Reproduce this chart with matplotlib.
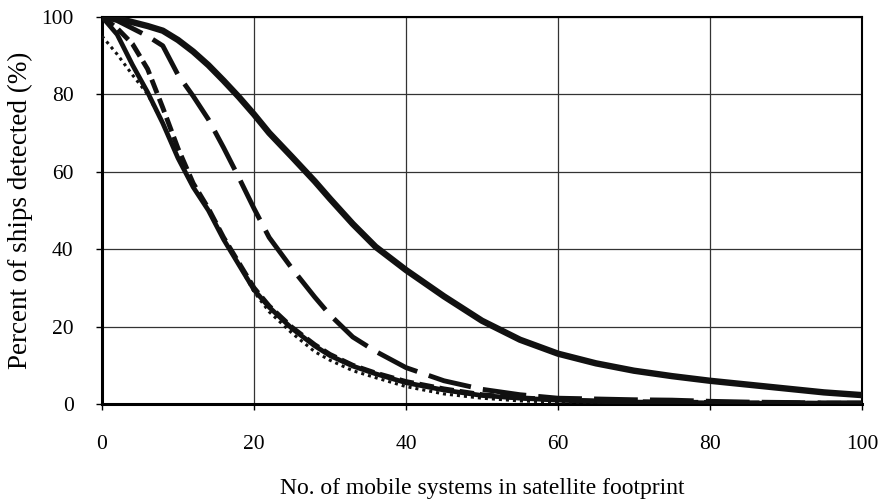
import matplotlib.pyplot as plt

plt.rcParams["font.family"] = ["Liberation Serif", "DejaVu Serif"]

# number of mobile systems in the footprint
n_systems = [0, 2, 4, 6, 8, 10, 12, 14, 16, 18, 20, 22, 25, 28, 30, 33, 36,
             40, 45, 50, 55, 60, 65, 70, 75, 80, 85, 90, 95, 100]

# percent of ships detected, one list per configuration
detect_thick = [100, 99.6, 98.6, 97.6, 96.4, 94, 91, 87.5, 83.5, 79.3, 74.8,
                70, 63.8, 57.5, 53, 46.5, 40.6, 34.6, 27.8, 21.5, 16.6, 13,
                10.5, 8.6, 7.2, 6, 5, 4, 3, 2.3]
detect_longdash = [100, 99, 97, 95, 92.5, 85, 79.5, 73.5, 66.2, 58.5, 50.5,
                   43, 35, 27.6, 23, 17.3, 13.6, 9.4, 6, 3.8, 2.4, 1.5, 1.3,
                   1.1, 1.0, 0.7, 0.5, 0.4, 0.3, 0.3]
detect_solid = [100, 95.4, 87.6, 80.5, 72.5, 63.5, 56, 50, 42.5, 36, 29.5,
                25, 19.5, 15, 12.5, 9.8, 7.8, 5.5, 3.6, 2.2, 1.5, 1.0, 0.7,
                0.5, 0.4, 0.3, 0.2, 0.2, 0.1, 0.1]
detect_shortdash = [100, 97, 93, 86.5, 76.5, 66, 57, 50.5, 43, 36.5, 30,
                    25.3, 19.8, 15.3, 12.8, 10, 8, 5.8, 3.9, 2.4, 1.6, 1.1,
                    0.8, 0.6, 0.5, 0.4, 0.3, 0.3, 0.2, 0.2]
detect_dotted = [95, 90.3, 85, 80, 72.5, 63.5, 56, 50, 42.5, 36, 29,
                 23.8, 18.3, 13.5, 11.3, 8.6, 6.8, 4.5, 2.6, 1.5, 0.8, 0.5,
                 0.4, 0.3, 0.25, 0.2, 0.15, 0.1, 0.1, 0.1]

xticks = [0, 20, 40, 60, 80, 100]
yticks = [0, 20, 40, 60, 80, 100]

fig = plt.figure(figsize=(8.8, 5.01), dpi=100)
ax = fig.add_axes([0.1159, 0.1936, 0.8636, 0.773])

ax.plot(n_systems, detect_dotted, color="#111111", lw=2.2,
        linestyle=(0, (1, 1.3)), solid_capstyle="butt", zorder=3)
ax.plot(n_systems, detect_shortdash, color="#111111", lw=3.5,
        linestyle=(0, (3, 1.2)), zorder=3)
ax.plot(n_systems, detect_solid, color="#111111", lw=3.4, zorder=4)
ax.plot(n_systems, detect_longdash, color="#111111", lw=3.5,
        linestyle=(0, (9, 2.5)), zorder=4)
ax.plot(n_systems, detect_thick, color="#111111", lw=4.6, zorder=5)

ax.set_xlim(0, 100)
ax.set_ylim(0, 100)
ax.set_xticks(xticks)
ax.set_yticks(yticks)
ax.grid(True, color="#333333", lw=0.9)
ax.set_axisbelow(True)

for side in ["left", "bottom"]:
    ax.spines[side].set_linewidth(2.2)
for side in ["top", "right"]:
    ax.spines[side].set_linewidth(1.5)

ax.tick_params(direction="out", length=4.5, width=1, labelsize=15.5)
ax.tick_params(axis="x", pad=18)
ax.tick_params(axis="y", pad=16)

ax.set_xlabel("No. of mobile systems in satellite footprint", fontsize=17,
              labelpad=17)
ax.set_ylabel("Percent of ships detected (%)", fontsize=19.5, labelpad=6)

fig.savefig("out.png", dpi=100)
